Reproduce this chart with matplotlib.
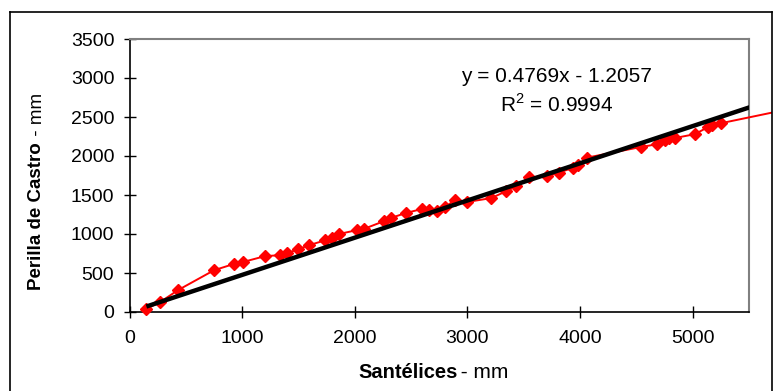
import matplotlib
matplotlib.use("Agg")
import matplotlib.pyplot as plt
import numpy as np
from matplotlib.lines import Line2D
from matplotlib.transforms import Bbox, TransformedBbox

# Annual rainfall (mm): Santélices station vs. Perilla de Castro station
santelices = [150, 270, 430, 750, 925, 1005, 1200, 1340, 1400, 1500, 1590,
              1740, 1795, 1860, 2020, 2080, 2260, 2320, 2455, 2595, 2660,
              2730, 2800, 2890, 2995, 3210, 3340, 3430, 3545, 3710, 3810,
              3940, 3985, 4065, 4540, 4680, 4755, 4790, 4840, 5020, 5135,
              5170, 5250, 5850]
perilla = [40, 125, 280, 535, 615, 640, 715, 730, 755, 805, 855,
           920, 945, 1000, 1050, 1065, 1165, 1205, 1270, 1320, 1305,
           1290, 1340, 1440, 1410, 1460, 1545, 1610, 1725, 1745, 1785,
           1850, 1885, 1980, 2115, 2150, 2200, 2225, 2230, 2280, 2370,
           2395, 2420, 2600]

# Linear trend line
slope = 0.4769
intercept = -1.2057
r_squared = 0.9994

x_ticks = [0, 1000, 2000, 3000, 4000, 5000]
y_ticks = [0, 500, 1000, 1500, 2000, 2500, 3000, 3500]

plt.rcParams['font.family'] = ['Liberation Sans', 'DejaVu Sans']
plt.rcParams['mathtext.fontset'] = 'custom'
plt.rcParams['mathtext.rm'] = 'Liberation Sans'

W, H = 775, 391
fig = plt.figure(figsize=(W / 100, H / 100), dpi=100)
ax = fig.add_axes([129.5 / W, 1 - 312 / H, (749 - 129.5) / W, (312 - 39) / H])

# Series with markers; line allowed to run past the plot area up to the chart frame
line, = ax.plot(santelices, perilla, color='#FF0000', lw=1.4, marker='D',
                ms=6.5, mec='#FF0000', mfc='#FF0000', zorder=3)
line.set_clip_box(TransformedBbox(Bbox([[10 / W, 0], [772 / W, 1 - 12 / H]]),
                                  fig.transFigure))

# Trend line over the data range
xt = np.array([min(santelices), max(santelices)])
ax.plot(xt, slope * xt + intercept, color='black', lw=3.2, zorder=4,
        solid_capstyle='butt')

ax.set_xlim(0, 5500)
ax.set_ylim(0, 3500)
ax.set_xticks(x_ticks)
ax.set_yticks(y_ticks)
ax.tick_params(direction='inout', length=8, width=1, labelsize=14,
               colors='black')
ax.tick_params(axis='y', pad=7)
ax.tick_params(axis='x', pad=9)

for side in ('left', 'bottom'):
    ax.spines[side].set_color('black')
    ax.spines[side].set_linewidth(1.2)
for side in ('top', 'right'):
    ax.spines[side].set_color('#808080')
    ax.spines[side].set_linewidth(1.5)

# Equation and R² annotation
fig.text(556 / W, 1 - 77 / H, 'y = 0.4769x - 1.2057', ha='center',
         va='center', fontsize=15)
fig.text(557 / W, 1 - 104 / H, 'R$^2$ = 0.9994', ha='center', va='center',
         fontsize=15)

# Axis titles: bold station name followed by regular unit
fig.canvas.draw()
renderer = fig.canvas.get_renderer()

xb = fig.text(358 / W, 1 - 373 / H, 'Santélices', ha='left', va='center',
              fontsize=14.5, fontweight='bold')
bx = xb.get_window_extent(renderer)
fig.text((bx.x1 - 2) / W, 1 - 373 / H, ' - mm', ha='left', va='center',
         fontsize=15)

yb = fig.text(37 / W, 1 - 290 / H, 'Perilla de Castro', rotation=90,
              ha='center', va='bottom', fontsize=13.5, fontweight='bold')
by = yb.get_window_extent(renderer)
fig.text(37 / W, (by.y1 + 1) / H, ' - mm', rotation=90, ha='center',
         va='bottom', fontsize=13.5)

# Outer chart frame
frame_kw = dict(color='black', lw=1.2, transform=fig.transFigure)
fig.add_artist(Line2D([10 / W, 10 / W], [-0.01, 1 - 12 / H], **frame_kw))
fig.add_artist(Line2D([10 / W, 772 / W], [1 - 12 / H, 1 - 12 / H], **frame_kw))
fig.add_artist(Line2D([772 / W, 772 / W], [-0.01, 1 - 12 / H], **frame_kw))

fig.savefig('out.png', dpi=100)
